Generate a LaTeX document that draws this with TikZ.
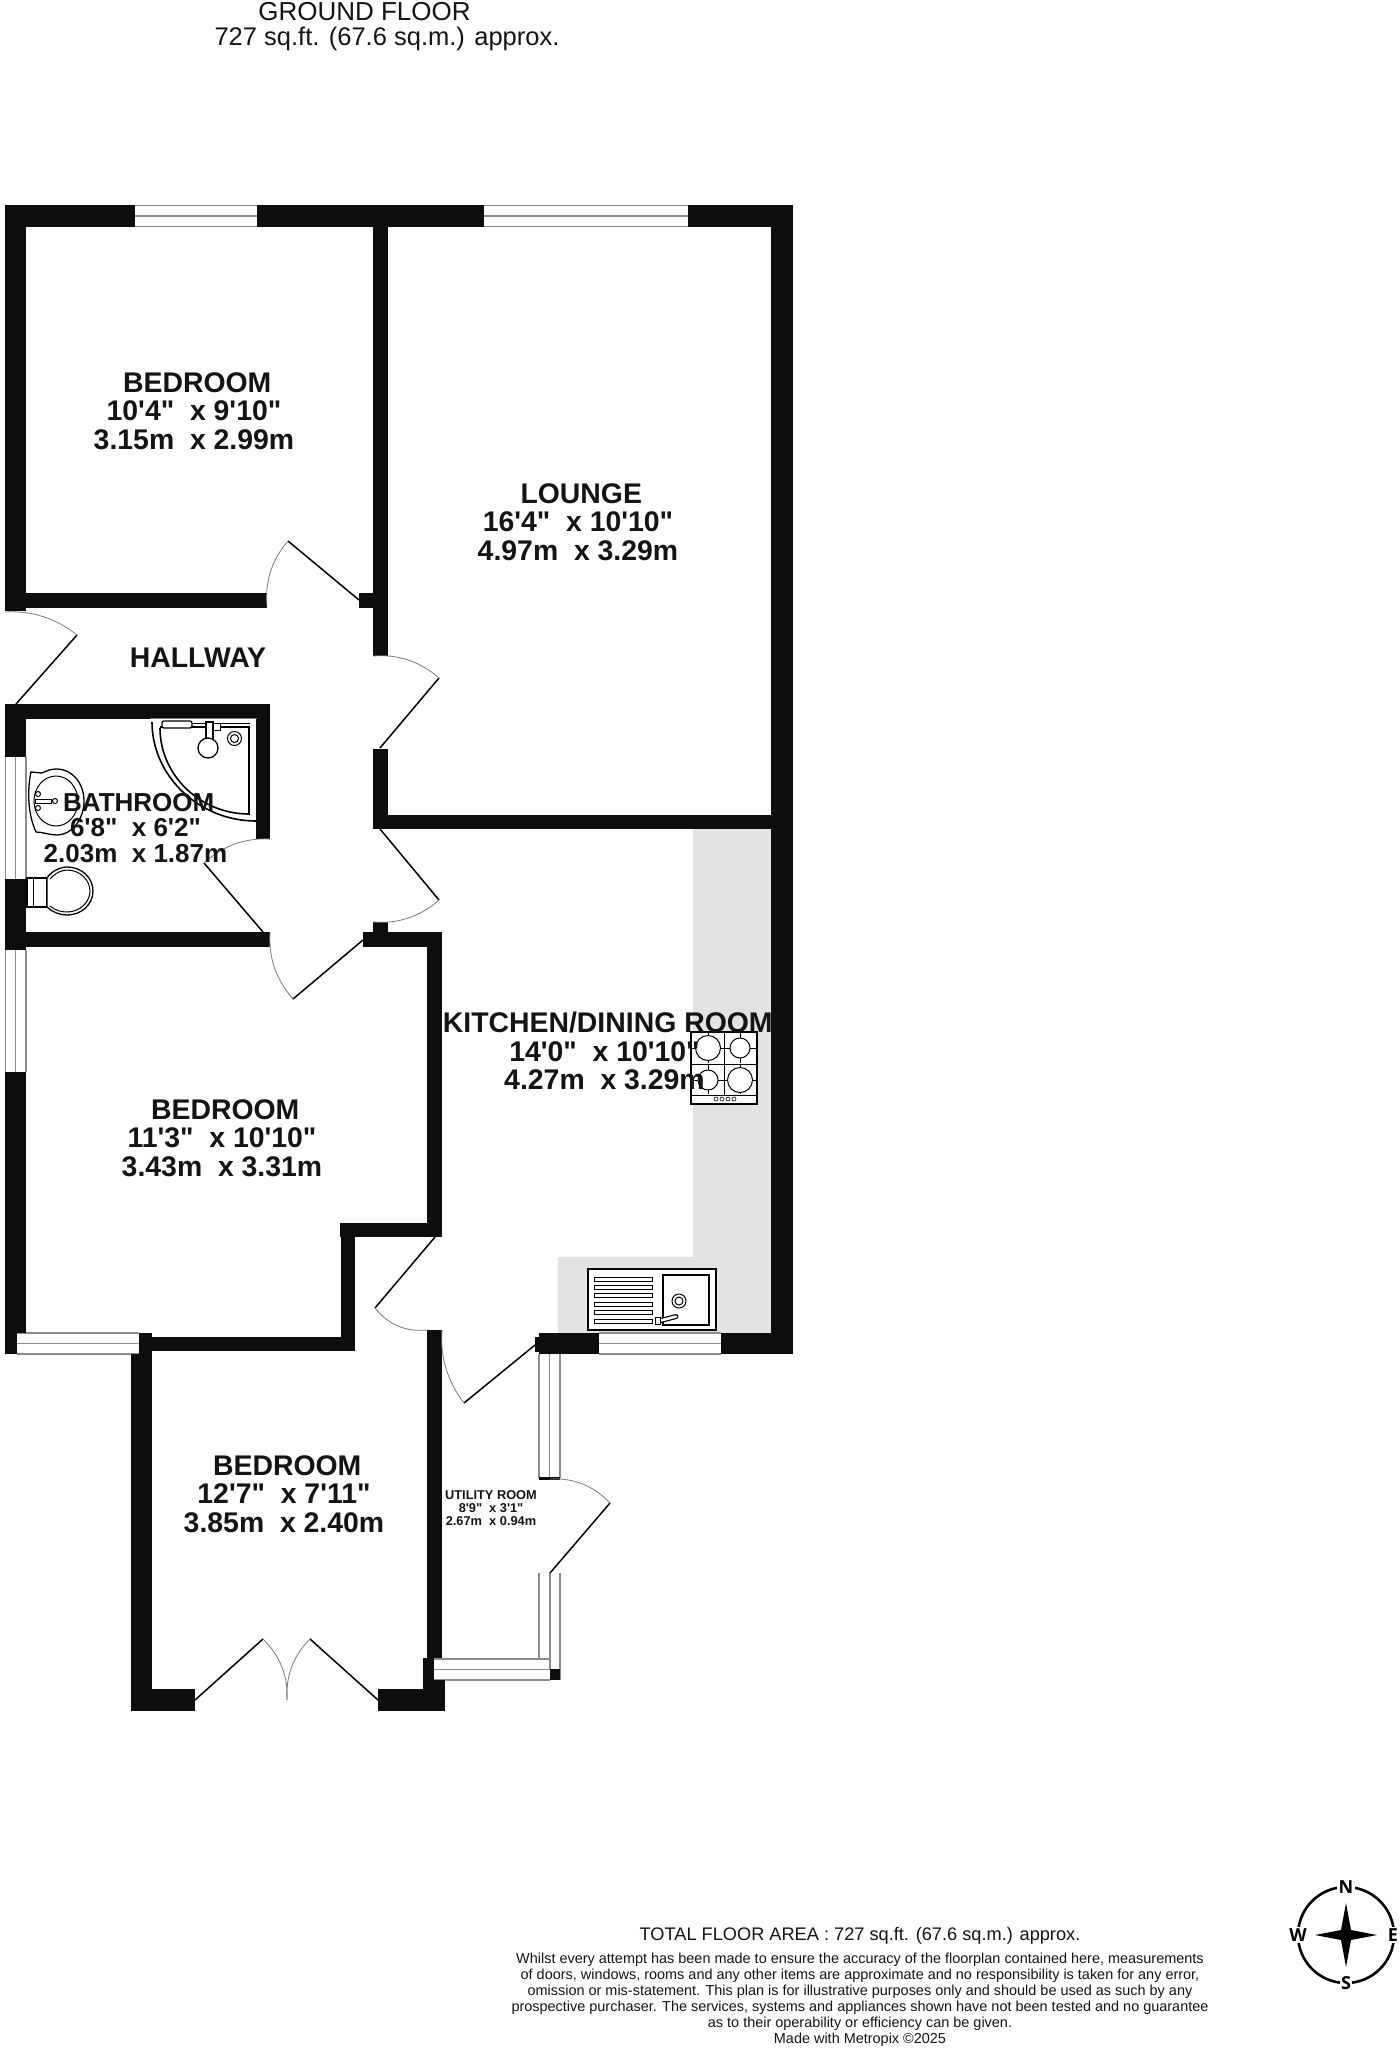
\documentclass[tikz,border=0pt]{standalone}
\usepackage{fontspec}
\usetikzlibrary{calc}
\newfontfamily\planfont{Liberation Sans}
\newfontfamily\compassfont{Open Sans}
\definecolor{wallcol}{HTML}{0D0D0D}
\definecolor{wingray}{HTML}{8C8C8C}
\definecolor{arcgray}{HTML}{7A7A7A}
\definecolor{worktop}{HTML}{E3E3E3}
\definecolor{inkcol}{HTML}{141414}
\tikzset{
  wallfill/.style={fill=wallcol,draw=none},
  winline/.style={draw=wingray,line width=1.4pt},
  leaf/.style={draw=black,line width=1.5pt},
  swing/.style={draw=arcgray,line width=0.8pt},
  fixture/.style={draw=black,line width=1.3pt,fill=white},
  fixturethin/.style={draw=black,line width=1pt},
  roomtext/.style={align=center,text=inkcol,inner sep=0pt,font=\planfont\bfseries\fontsize{28.4}{28.7}\selectfont},
  bathtext/.style={align=center,text=inkcol,inner sep=0pt,font=\planfont\bfseries\fontsize{26}{25.8}\selectfont},
  smalltext/.style={align=center,text=inkcol,inner sep=0pt,font=\planfont\bfseries\fontsize{12.8}{13}\selectfont},
  headtext/.style={text=inkcol,inner sep=0pt,font=\planfont\fontsize{26}{28}\selectfont},
  headtextb/.style={text=inkcol,inner sep=0pt,font=\planfont\fontsize{25.5}{28}\selectfont},
  notetext/.style={align=center,text=inkcol,inner sep=0pt,font=\planfont\fontsize{14.45}{16}\selectfont},
  totaltext/.style={text=inkcol,inner sep=0pt,font=\planfont\fontsize{18.2}{20}\selectfont},
  compasstext/.style={fill=white,text=black,inner sep=1.5pt,font=\compassfont\bfseries\fontsize{18}{19}\selectfont}
}
\newcommand\plwall[4]{\fill[wallfill] (#1,#2) rectangle (#3,#4);}
\newcommand\plhwin[3]{\fill[white] (#1,#2) rectangle (#3,#2+21);\draw[winline] (#1,#2) -- (#3,#2) (#1,#2+10.5) -- (#3,#2+10.5) (#1,#2+21) -- (#3,#2+21);}
\newcommand\plvwin[4]{\draw[winline] (#1,#3) -- (#1,#4) (#2,#3) -- (#2,#4) ($(#1,#3)!0.5!(#2,#3)$) -- ($(#1,#4)!0.5!(#2,#4)$);}
% hinge, tip, jamb: the swing is a 45 degree arc round the hinge
\newcommand\pldoor[3]{\draw[leaf] (#1) -- (#2);
  \coordinate (plq) at ($(#1)!1.1716!($(#2)!.5!(#3)$)$);
  \draw[swing] (#2) .. controls ($(#2)!.6667!(plq)$) and ($(#3)!.6667!(plq)$) .. (#3);}
\newcommand\plribs[1]{\draw[fixturethin,fill=white] (594,#1) rectangle (652,#1+4);}
\newcommand\plhead[1]{\hspace*{6.5pt}#1}
\begin{document}
\begin{tikzpicture}[x=1pt,y=-1pt]
\useasboundingbox (0,0) rectangle (1400,2048);
\fill[white] (0,0) rectangle (1400,2048);

% worktop
\fill[worktop] (693,829) -- (771,829) -- (771,1333) -- (558,1333) -- (558,1257) -- (693,1257) -- cycle;

% windows
\plhwin{135}{205.5}{257}
\plhwin{484}{205.5}{688}
\plhwin{17}{1333}{139}
\plhwin{599}{1333}{721}
\plhwin{434}{1659}{550}
\plvwin{5.5}{26}{757}{879}
\plvwin{5.5}{26}{950}{1072}
\plvwin{539}{560}{1354}{1478}
\draw[winline] (539,1573) -- (539,1659) (550,1573) -- (550,1669) (560,1573) -- (560,1680);

% walls
\plwall{5}{205}{135}{227}
\plwall{257}{205}{484}{227}
\plwall{688}{205}{793}{227}
\plwall{771}{205}{793}{1354}
\plwall{5}{205}{26}{611}
\plwall{26}{593}{267}{608}
\plwall{359}{593}{373}{608}
\plwall{373}{227}{388}{656}
\plwall{373}{749}{388}{829}
\plwall{373}{815}{771}{829}
\plwall{5}{704}{270}{719}
\plwall{5}{719}{26}{757}
\plwall{5}{879}{26}{950}
\plwall{256}{704}{270}{839}
\plwall{26}{932}{270}{947}
\plwall{363}{932}{442}{947}
\plwall{373}{922}{388}{932}
\plwall{427}{932}{442}{1237}
\plwall{340}{1223}{442}{1237}
\plwall{341}{1223}{355}{1351}
\plwall{152}{1337}{355}{1351}
\plwall{5}{1072}{26}{1333}
\plwall{5}{1333}{17}{1354}
\plwall{139}{1333}{152}{1354}
\plwall{131}{1354}{152}{1711}
\plwall{131}{1689}{195}{1711}
\plwall{378}{1689}{445}{1711}
\plwall{427}{1330}{442}{1658}
\plwall{423}{1658}{434}{1689}
\plwall{423}{1680}{445}{1689}
\plwall{535}{1337}{539}{1352}
\plwall{539}{1333}{599}{1354}
\plwall{721}{1333}{793}{1354}
\plwall{539}{1477}{560}{1480}
\plwall{550}{1669}{560}{1680}

% doors
\pldoor{359,600}{288,541}{267,607}
\pldoor{16,704}{77,635}{5,612}
\pldoor{380,748}{439,678}{373,656}
\pldoor{380,829}{439,900}{373,922}
\pldoor{263,932}{204,863}{270,839}
\pldoor{363,940}{293,999}{270,932}
\pldoor{435,1237}{375,1308}{427,1330}
\pldoor{535,1345}{464,1403}{442,1330}
\pldoor{550,1573}{610,1503}{550,1479}
\pldoor{195,1700}{263,1639}{287,1700}
\pldoor{378,1700}{310,1639}{287,1700}

% shower
\draw[draw=arcgray,line width=0.7pt] (150,718) -- (257,718);
\draw[draw=black,line width=1.6pt] (152,722) .. controls (152,776) and (199,821) .. (256,821);
\draw[draw=black,line width=1.6pt] (160,728) .. controls (160,775) and (200,814) .. (249,814) -- (249,727) -- (160,727);
\draw[fixturethin] (190,723.5) -- (250,723.5);
\draw[fixture,rounded corners=2pt] (162,721) rectangle (192,728);
\draw[fixturethin,fill=white] (212,723) rectangle (220,730);
\draw[fixture] (206,722) rectangle (213,743);
\draw[fixture] (208,748) circle[radius=10pt];
\draw[fixturethin] (234.5,738.5) circle[radius=7pt] (234.5,738.5) circle[radius=4pt];

% basin
\draw[fixture] (31,772) -- (42,773) .. controls (48,770) and (52,769) .. (57,769) .. controls (72,769) and (84,783) .. (84,801) .. controls (84,819) and (72,835) .. (57,835) .. controls (50,835) and (42,832) .. (36,832) .. controls (28,815) and (27,790) .. (31,772) -- cycle;
\draw[fixturethin] (56,801) ellipse[x radius=22pt,y radius=25pt];
\draw[fixturethin] (38,794) circle[radius=2.5pt] (38,808) circle[radius=2.5pt] (55,801) circle[radius=2.5pt];
\draw[fixturethin,fill=white] (35,799) rectangle (51,803);

% toilet
\draw[fixture] (27,878) rectangle (47,907);
\draw[fixturethin] (33,878) -- (33,907);
\draw[fixture] (47,878) .. controls (52,870) and (62,867) .. (67,867) .. controls (82,867) and (93,878) .. (93,891) .. controls (93,904) and (82,915) .. (67,915) .. controls (60,915) and (52,912) .. (47,907) -- cycle;
\draw[fixturethin] (50,879) .. controls (55,873) and (62,870) .. (67,870) .. controls (80,870) and (90,880) .. (90,891) .. controls (90,902) and (80,912) .. (67,912) .. controls (60,912) and (55,910) .. (50,906);

% hob
\draw[fixture] (691,1032) rectangle (757,1104);
\draw[fixturethin] (724,1032) -- (724,1095) (691,1064) -- (757,1064) (691,1095) -- (757,1095);
\draw[fixturethin] (692,1048) -- (724,1048) (708,1033) -- (708,1063) (724,1048) -- (756,1048) (740,1033) -- (740,1063)
  (692,1080) -- (724,1080) (708,1065) -- (708,1094) (724,1080) -- (756,1080) (740,1065) -- (740,1094);
\draw[fixturethin,fill=white] (708,1048) circle[radius=12.5pt] (740,1048) circle[radius=10pt] (708,1080) circle[radius=10pt] (740,1080) circle[radius=12.5pt];
\draw[draw=black,line width=0.6pt] (716,1099) circle[radius=2pt] (722,1099) circle[radius=2pt] (728,1099) circle[radius=2pt] (734,1099) circle[radius=2pt];

% sink
\draw[draw=black,line width=1.8pt,fill=white] (588,1269) rectangle (716,1330);
\plribs{1277}
\plribs{1285.4}
\plribs{1293.8}
\plribs{1302.2}
\plribs{1310.6}
\plribs{1319}
\draw[fixture] (663,1275) rectangle (709,1325);
\draw[fixturethin] (679,1301) circle[radius=7pt] (679,1301) circle[radius=4pt];
\draw[draw=black,line width=5pt,line cap=round] (659,1321) -- (676,1316.5);
\draw[draw=white,line width=2.6pt,line cap=round] (659,1321) -- (676,1316.5);
\draw[fixturethin,fill=white] (655.5,1317) rectangle (660,1324);

% room labels
\node[headtext] (titlea) at (364.5,12) {GROUND FLOOR};
\node[headtextb] (titleb) at (387,39) {727 sq.ft. (67.6 sq.m.) approx.};
\node[roomtext] (bedroomone) at (194,411) {\plhead{BEDROOM}\\10'4"\ \ x 9'10"\\3.15m\ \ x 2.99m};
\node[roomtext] (lounge) at (578,522) {\plhead{LOUNGE}\\16'4"\ \ x 10'10"\\4.97m\ \ x 3.29m};
\node[roomtext] (hallway) at (198,658) {HALLWAY};
\node[bathtext] (bathroom) at (135.5,828) {\plhead{BATHROOM}\\6'8"\ \ x 6'2"\\2.03m\ \ x 1.87m};
\node[roomtext] (kitchen) at (604.5,1051) {\plhead{KITCHEN/DINING ROOM}\\14'0"\ \ x 10'10"\\4.27m\ \ x 3.29m};
\node[roomtext] (bedroomtwo) at (222,1138) {\plhead{BEDROOM}\\11'3"\ \ x 10'10"\\3.43m\ \ x 3.31m};
\node[roomtext] (bedroomthree) at (284,1494) {\plhead{BEDROOM}\\12'7"\ \ x 7'11"\\3.85m\ \ x 2.40m};
\node[smalltext] (utility) at (491,1508) {UTILITY ROOM\\8'9"\ \ x 3'1"\\2.67m\ \ x 0.94m};

% footer
\node[totaltext] (total) at (860,1935.5) {TOTAL FLOOR AREA : 727 sq.ft. (67.6 sq.m.) approx.};
\node[notetext] (note) at (860,2000) {Whilst every attempt has been made to ensure the accuracy of the floorplan contained here, measurements\\of doors, windows, rooms and any other items are approximate and no responsibility is taken for any error,\\omission or mis-statement. This plan is for illustrative purposes only and should be used as such by any\\prospective purchaser. The services, systems and appliances shown have not been tested and no guarantee\\as to their operability or efficiency can be given.\\Made with Metropix \textcopyright2025};

% compass
\draw[draw=black,line width=2.6pt] (1346,1935) circle[radius=48pt];
\fill[black] (1377,1935) -- (1351,1940) -- (1346,1967) -- (1341,1940) -- (1315,1935) -- (1341,1930) -- (1346,1903) -- (1351,1930) -- cycle;
\node[compasstext] (north) at (1346,1887) {N};
\node[compasstext] (south) at (1346,1983) {S};
\node[compasstext] (west) at (1298,1935) {W};
\node[compasstext] (east) at (1393,1935) {E};
\end{tikzpicture}
\end{document}
